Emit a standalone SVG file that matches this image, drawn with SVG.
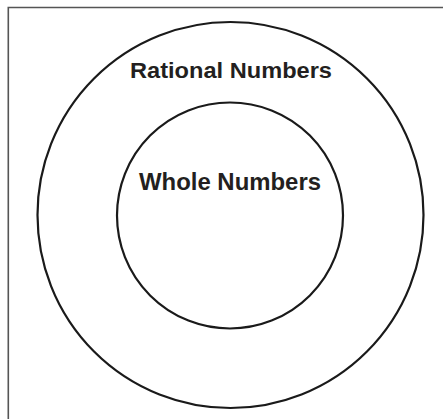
<svg xmlns="http://www.w3.org/2000/svg" width="443" height="419" viewBox="0 0 443 419">
<style>
.c{fill:none;stroke:#1a1a1a;stroke-width:2.2}
.t{font-family:"Liberation Sans",Arial,sans-serif;font-weight:bold;fill:#231f20;text-anchor:middle}
</style>
<rect width="443" height="419" fill="#fff"/>
<path d="M8.3 419 V7.5 H443" fill="none" stroke="#555" stroke-width="1.6"/>
<g id="rational">
<circle class="c" cx="230.5" cy="215" r="193"/>
<text class="t" x="231" y="78" font-size="22.8" textLength="202" lengthAdjust="spacingAndGlyphs">Rational Numbers</text>
</g>
<g id="whole">
<circle class="c" cx="230" cy="215.5" r="113"/>
<text class="t" x="230" y="189.5" font-size="23.2" textLength="182" lengthAdjust="spacingAndGlyphs">Whole Numbers</text>
</g>
<g id="connectors"/>
</svg>
